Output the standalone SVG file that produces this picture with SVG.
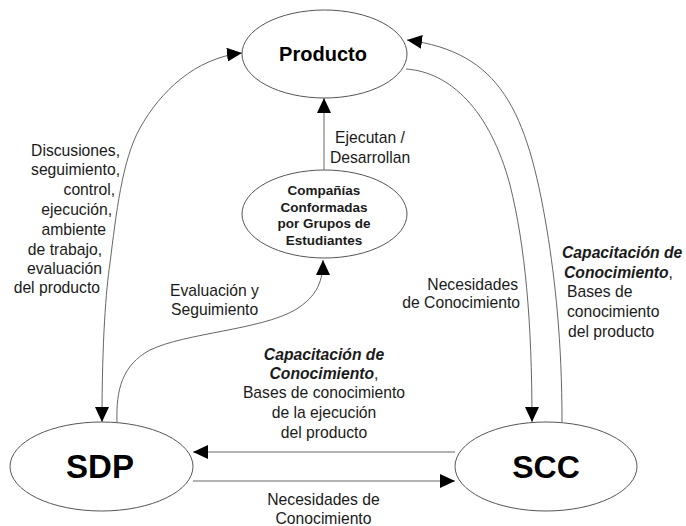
<svg xmlns="http://www.w3.org/2000/svg" width="686" height="526" viewBox="0 0 686 526">
<defs>
<style>
.node{fill:#fff;stroke:#555;stroke-width:1}
.conn{fill:none;stroke:#666;stroke-width:1}
text{font-family:"Liberation Sans",Arial,sans-serif;fill:#1a1a1a}
.lbl{font-size:15.7px}
.bi{font-weight:bold;font-style:italic}
.big{font-weight:bold;fill:#000}
.cmp{font-size:13.5px;font-weight:bold}
.c{text-anchor:middle}
.e{text-anchor:end}
</style>
<marker id="ah" viewBox="0 0 15 14" markerWidth="15" markerHeight="14" markerUnits="userSpaceOnUse" refX="15" refY="7" orient="auto-start-reverse">
<path d="M0,0 L15,7 L0,14 Z" fill="#000"/>
</marker>
</defs>
<rect width="686" height="526" fill="#fff"/>

<g id="connectors">
<path class="conn" d="M102,422 C102,340 106,290 110,263 C116,215 122,160 140,128 C160,92 195,58 242,53" marker-start="url(#ah)" marker-end="url(#ah)"/>
<path class="conn" d="M117,422 C116,390 122,365 150,350 C185,333 260,330 295,310 C318,296 323,280 323,260" marker-end="url(#ah)"/>
<path class="conn" d="M324,170 L324,98" marker-end="url(#ah)"/>
<path class="conn" d="M562,422 C562,340 555,280 547,230 C527,110 500,52 407,40" marker-end="url(#ah)"/>
<path class="conn" d="M406,69 C450,72 490,110 510,185 C525,245 532,320 532,422" marker-end="url(#ah)"/>
<path class="conn" d="M455,452 L193,452" marker-end="url(#ah)"/>
<path class="conn" d="M193,481 L455,481" marker-end="url(#ah)"/>
</g>

<g id="producto">
<ellipse class="node" cx="324.5" cy="54" rx="82.5" ry="44"/>
<text class="big c" x="323" y="61" font-size="20">Producto</text>
</g>

<g id="companias">
<ellipse class="node" cx="324.5" cy="214" rx="82.5" ry="44"/>
<text class="cmp c" x="324" y="195">Compañías</text>
<text class="cmp c" x="324" y="212">Conformadas</text>
<text class="cmp c" x="324" y="228">por Grupos de</text>
<text class="cmp c" x="324" y="245">Estudiantes</text>
</g>

<g id="sdp">
<ellipse class="node" cx="101.5" cy="466.5" rx="91.5" ry="44.5"/>
<text class="big c" x="100" y="478" font-size="33">SDP</text>
</g>

<g id="scc">
<ellipse class="node" cx="546" cy="466.5" rx="91" ry="44.5"/>
<text class="big c" x="546" y="478" font-size="32">SCC</text>
</g>

<g id="labels">
<text class="lbl e" x="120" y="156">Discusiones,</text>
<text class="lbl e" x="120" y="175">seguimiento,</text>
<text class="lbl e" x="115" y="195">control,</text>
<text class="lbl e" x="112" y="215">ejecución,</text>
<text class="lbl e" x="106" y="235">ambiente</text>
<text class="lbl e" x="102" y="255">de trabajo,</text>
<text class="lbl e" x="102" y="274">evaluación</text>
<text class="lbl e" x="100" y="293">del producto</text>

<text class="lbl c" x="370" y="143">Ejecutan /</text>
<text class="lbl c" x="370" y="163">Desarrollan</text>

<text class="lbl" x="170" y="296">Evaluación y</text>
<text class="lbl" x="171" y="315">Seguimiento</text>

<text class="lbl c" x="324" y="360"><tspan class="bi">Capacitación de</tspan></text>
<text class="lbl c" x="324" y="379"><tspan class="bi">Conocimiento</tspan>,</text>
<text class="lbl c" x="324" y="398">Bases de conocimiento</text>
<text class="lbl c" x="324" y="418">de la ejecución</text>
<text class="lbl c" x="324" y="438">del producto</text>

<text class="lbl c" x="323.5" y="505">Necesidades de</text>
<text class="lbl c" x="323.5" y="524">Conocimiento</text>

<text class="lbl e" x="518" y="290">Necesidades</text>
<text class="lbl e" x="520" y="308">de Conocimiento</text>

<text class="lbl" x="562" y="258"><tspan class="bi">Capacitación de</tspan></text>
<text class="lbl" x="564" y="278"><tspan class="bi">Conocimiento</tspan>,</text>
<text class="lbl" x="567" y="297">Bases de</text>
<text class="lbl" x="567" y="317">conocimiento</text>
<text class="lbl" x="568" y="337">del producto</text>
</g>
</svg>
